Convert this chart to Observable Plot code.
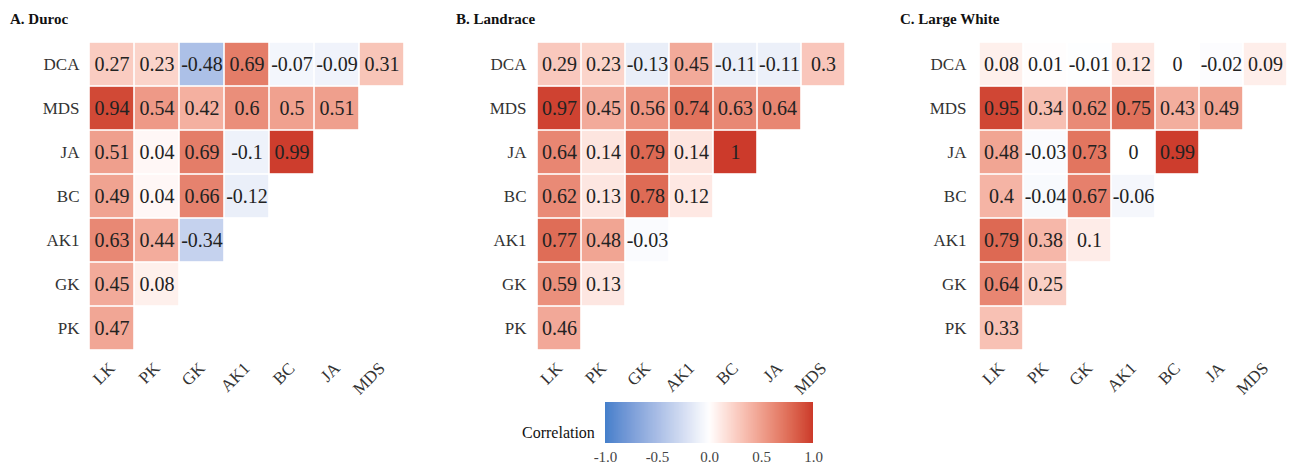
<!DOCTYPE html>
<html>
<head>
<meta charset="utf-8">
<script src="https://cdn.jsdelivr.net/npm/d3@7"></script>
<script src="https://cdn.jsdelivr.net/npm/@observablehq/plot@0.6"></script>
<style>
  html, body { margin: 0; padding: 0; background: #fff; }
  #wrap { position: relative; width: 1290px; height: 466px; overflow: hidden; font-family: "Liberation Serif", "DejaVu Serif", serif; }
  .panel { position: absolute; top: 0; }
  .title { position: absolute; top: 11px; font-weight: bold; font-size: 15px; color: #111; white-space: nowrap; }
  .leglabel { position: absolute; font-size: 16px; color: #111; }
  #legend { position: absolute; }
  #legend line { display: none; }
</style>
</head>
<body>
<div id="wrap"></div>
<script>
const cols = ["LK", "PK", "GK", "AK1", "BC", "JA", "MDS"];
const rows = ["DCA", "MDS", "JA", "BC", "AK1", "GK", "PK"];

// lower-triangle values, each row listed left to right starting at LK
const duroc = [
  [0.27, 0.23, -0.48, 0.69, -0.07, -0.09, 0.31],
  [0.94, 0.54, 0.42, 0.6, 0.5, 0.51],
  [0.51, 0.04, 0.69, -0.1, 0.99],
  [0.49, 0.04, 0.66, -0.12],
  [0.63, 0.44, -0.34],
  [0.45, 0.08],
  [0.47]
];
const landrace = [
  [0.29, 0.23, -0.13, 0.45, -0.11, -0.11, 0.3],
  [0.97, 0.45, 0.56, 0.74, 0.63, 0.64],
  [0.64, 0.14, 0.79, 0.14, 1],
  [0.62, 0.13, 0.78, 0.12],
  [0.77, 0.48, -0.03],
  [0.59, 0.13],
  [0.46]
];
const largeWhite = [
  [0.08, 0.01, -0.01, 0.12, 0, -0.02, 0.09],
  [0.95, 0.34, 0.62, 0.75, 0.43, 0.49],
  [0.48, -0.03, 0.73, 0, 0.99],
  [0.4, -0.04, 0.67, -0.06],
  [0.79, 0.38, 0.1],
  [0.64, 0.25],
  [0.33]
];
const titles = ["A. Duroc", "B. Landrace", "C. Large White"];
const legendTicks = [-1, -0.5, 0, 0.5, 1];

const colorScale = {
  type: "linear",
  domain: [-1, 0, 1],
  range: ["#4580cb", "#ffffff", "#cc3a2b"],
  interpolate: "lab"
};

function toTable(mat) {
  const out = [];
  mat.forEach((vals, i) => vals.forEach((v, j) => out.push({row: rows[i], col: cols[j], value: v})));
  return out;
}

const wrap = document.getElementById("wrap");
const layout = [
  {left: 0, plotW: 315, titleX: 10},
  {left: 447, plotW: 310, titleX: 456},
  {left: 887, plotW: 314, titleX: 900}
];
const mats = [duroc, landrace, largeWhite];

mats.forEach((mat, k) => {
  const L = layout[k];
  const data = toTable(mat);
  const chart = Plot.plot({
    width: 89 + L.plotW,
    height: 402,
    marginLeft: 89,
    marginRight: 0,
    marginTop: 40,
    marginBottom: 50,
    style: {fontFamily: "Liberation Serif, serif", background: "transparent", overflow: "visible"},
    x: {domain: cols, padding: 0},
    y: {domain: rows, padding: 0},
    color: colorScale,
    marks: [
      Plot.cell(data, {x: "col", y: "row", fill: "value", inset: 0.8}),
      Plot.text(data, {x: "col", y: "row", text: d => String(d.value), fontSize: 20, fill: "#222"}),
      Plot.axisX({tickRotate: -45, tickSize: 0, tickPadding: 13, fontSize: 17, fill: "#333", label: null}),
      Plot.axisY({tickSize: 0, tickPadding: 10, fontSize: 17, fill: "#333", label: null})
    ]
  });
  chart.classList.add("panel");
  chart.style.left = L.left + "px";
  wrap.appendChild(chart);
  const t = document.createElement("div");
  t.className = "title";
  t.style.left = L.titleX + "px";
  t.textContent = titles[k];
  wrap.appendChild(t);
});

const leg = Plot.legend({
  color: colorScale,
  width: 228,
  height: 64,
  marginLeft: 10,
  marginRight: 10,
  marginTop: 2,
  marginBottom: 21,
  tickSize: 5,
  ticks: legendTicks,
  tickFormat: d => d.toFixed(1),
  label: null,
  style: {fontFamily: "Liberation Serif, serif", fontSize: "15px", color: "#444", background: "transparent"}
});
const legDiv = document.createElement("div");
legDiv.id = "legend";
legDiv.style.left = "595px";
legDiv.style.top = "400px";
legDiv.appendChild(leg);
wrap.appendChild(legDiv);

const ll = document.createElement("div");
ll.className = "leglabel";
ll.style.left = "522px";
ll.style.top = "424px";
ll.textContent = "Correlation";
wrap.appendChild(ll);
</script>
</body>
</html>
